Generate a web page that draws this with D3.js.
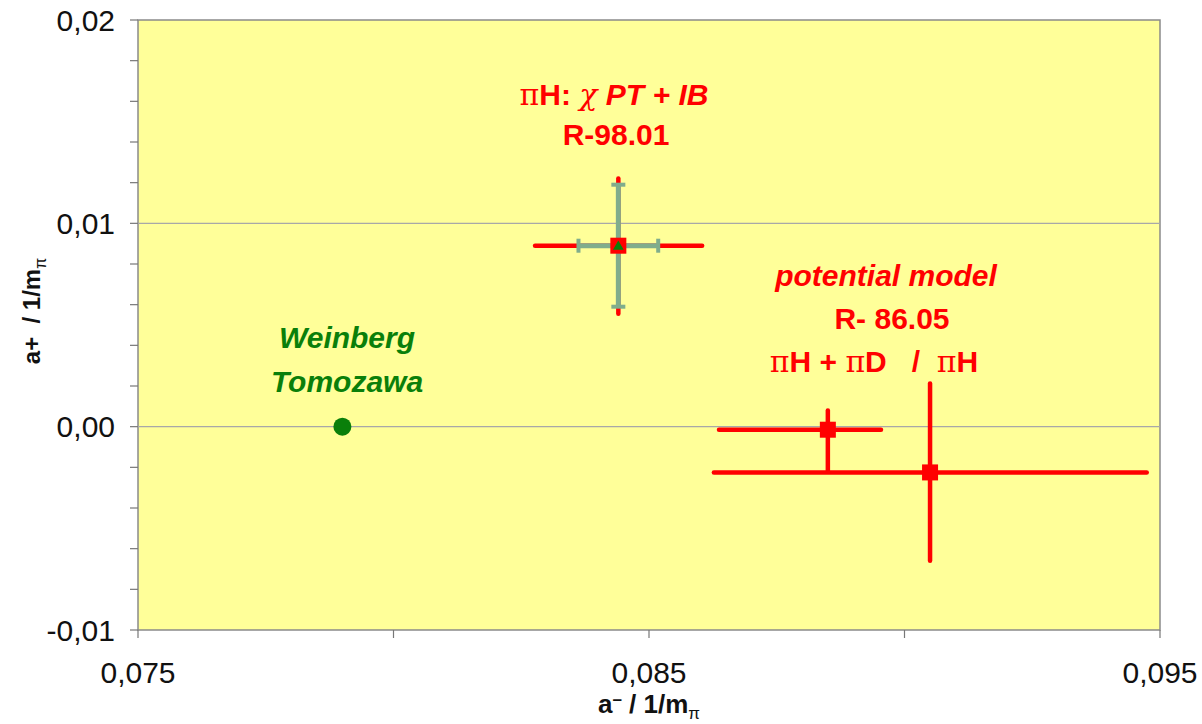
<!DOCTYPE html>
<html>
<head>
<meta charset="utf-8">
<script src="https://cdn.jsdelivr.net/npm/d3@7"></script>
<style>
body{margin:0;background:#fff;}
svg{display:block;font-family:Arial,"Liberation Sans",sans-serif;}
</style>
</head>
<body>
<svg id="chart" width="1202" height="724"></svg>
<script>
// 数据 (a-, a+ 单位 1/m_pi)
var xDomain=[0.075,0.095];
var yDomain=[-0.01,0.02];
var xTicks=[0.075,0.080,0.085,0.090,0.095];
var xTickLabels=["0,075","","0,085","","0,095"];
var yTicks=[-0.01,0,0.01,0.02];
var yTickLabels=["-0,01","0,00","0,01","0,02"];
var yMinorTicks=d3.range(-0.01,0.0201,0.002);

// red error bars: x, y, xlo, xhi, ylo, yhi
var redNames=["piH_chiPT","piH_piD","piH"];
var redX=[0.0844,0.0885,0.0905];
var redY=[0.0089,-0.00015,-0.00225];
var redXlo=[0.08277,0.08637,0.08627];
var redXhi=[0.08604,0.08954,0.09474];
var redYlo=[0.00555,-0.00216,-0.00659];
var redYhi=[0.0122,0.00079,0.00212];

// green (grey-green) error bars of chiPT point
var grnX=[0.0844];
var grnY=[0.0089];
var grnXerr=[0.00078];
var grnYerr=[0.0030];

// Weinberg-Tomozawa
var wtX=[0.0790];
var wtY=[0.0];

var svg=d3.select("#chart");
var L=138,R=1160,T=20,B=630;
var x=d3.scaleLinear().domain(xDomain).range([L,R]);
var y=d3.scaleLinear().domain(yDomain).range([B,T]);

var RED="#ff0000",GREEN="#0a7f0a",GG="#80ad8c";

// 底色
svg.append("rect").attr("x",L).attr("y",T).attr("width",R-L).attr("height",B-T)
    .attr("fill","#ffff99").attr("stroke","#8a8a8a").attr("stroke-width",1.5);

// grid
svg.append("g").selectAll("line").data([0,0.01]).enter().append("line")
    .attr("x1",L).attr("x2",R).attr("y1",d=>y(d)).attr("y2",d=>y(d))
    .attr("stroke","#a8a8a8").attr("stroke-width",1.2);

// y axis minor + major ticks
svg.append("g").selectAll("line").data(yMinorTicks).enter().append("line")
    .attr("x1",L-8).attr("x2",L).attr("y1",d=>y(d)).attr("y2",d=>y(d))
    .attr("stroke","#777").attr("stroke-width",1.2);
svg.append("g").selectAll("text").data(yTicks).enter().append("text")
    .attr("x",115).attr("y",d=>y(d)).attr("dy","0.36em")
    .attr("text-anchor","end").attr("font-size",30).attr("fill","#111")
    .text((d,i)=>yTickLabels[i]);

// x axis ticks
svg.append("g").selectAll("line").data(xTicks).enter().append("line")
    .attr("x1",d=>x(d)).attr("x2",d=>x(d)).attr("y1",B).attr("y2",B+8)
    .attr("stroke","#777").attr("stroke-width",1.2);
svg.append("g").selectAll("text").data(xTicks).enter().append("text")
    .attr("x",d=>x(d)).attr("y",683)
    .attr("text-anchor","middle").attr("font-size",30).attr("fill","#111")
    .text((d,i)=>xTickLabels[i]);

// axis titles
var xt=svg.append("text").attr("x",649).attr("y",713).attr("text-anchor","middle")
    .attr("font-size",26).attr("font-weight","bold").attr("fill","#111");
xt.append("tspan").text("a");
xt.append("tspan").attr("dy",-8).attr("font-size",17).text("\u2013");
xt.append("tspan").attr("dy",8).text(" / 1/m");
xt.append("tspan").attr("dy",6).attr("font-size",17).attr("font-weight","normal").text("\u03c0");

var yt=svg.append("text").attr("transform","translate(40,311) rotate(-90)")
    .attr("text-anchor","middle").attr("font-size",24).attr("font-weight","bold").attr("fill","#111")
    .attr("xml:space","preserve");
yt.append("tspan").text("a+  / 1/m");
yt.append("tspan").attr("dy",6).attr("font-size",16).attr("font-weight","normal").text("\u03c0");

// red error bars
var idx=d3.range(redX.length);
var eb=svg.append("g").attr("stroke",RED).attr("stroke-width",4.5).attr("stroke-linecap","round");
eb.selectAll(".h").data(idx).enter().append("line")
    .attr("x1",i=>x(redXlo[i])).attr("x2",i=>x(redXhi[i]))
    .attr("y1",i=>y(redY[i])).attr("y2",i=>y(redY[i]));
eb.selectAll(".v").data(idx).enter().append("line")
    .attr("x1",i=>x(redX[i])).attr("x2",i=>x(redX[i]))
    .attr("y1",i=>y(redYlo[i])).attr("y2",i=>y(redYhi[i]));

// grey-green bars with caps
var gb=svg.append("g").attr("stroke",GG).attr("stroke-width",5);
grnX.forEach(function(gx,i){
    var cx=x(gx),cy=y(grnY[i]);
    var x0=x(gx-grnXerr[i]),x1=x(gx+grnXerr[i]);
    var y0=y(grnY[i]-grnYerr[i]),y1=y(grnY[i]+grnYerr[i]);
    gb.append("line").attr("x1",x0).attr("x2",x1).attr("y1",cy).attr("y2",cy);
    gb.append("line").attr("x1",cx).attr("x2",cx).attr("y1",y0).attr("y2",y1);
    [x0,x1].forEach(function(v){
        gb.append("line").attr("x1",v).attr("x2",v).attr("y1",cy-7).attr("y2",cy+7).attr("stroke-width",4);
    });
    [y0,y1].forEach(function(v){
        gb.append("line").attr("y1",v).attr("y2",v).attr("x1",cx-7).attr("x2",cx+7).attr("stroke-width",4);
    });
});

// markers
svg.append("g").selectAll("rect").data(idx).enter().append("rect")
    .attr("x",i=>x(redX[i])-8).attr("y",i=>y(redY[i])-8)
    .attr("width",16).attr("height",16).attr("fill",RED);
svg.append("path")
    .attr("d",d3.symbol().type(d3.symbolTriangle).size(50))
    .attr("transform","translate("+x(grnX[0])+","+(y(grnY[0])+1)+")")
    .attr("fill",GREEN);
svg.append("g").selectAll("circle").data(wtX).enter().append("circle")
    .attr("cx",d=>x(d)).attr("cy",(d,i)=>y(wtY[i])).attr("r",9).attr("fill",GREEN);

// annotations
function label(xp,yp,color,parts){
    var t=svg.append("text").attr("x",xp).attr("y",yp).attr("text-anchor","middle")
        .attr("font-size",30).attr("font-weight","bold").attr("fill",color).attr("xml:space","preserve");
    parts.forEach(function(p){
        var s=t.append("tspan").text(p[0]);
        if(p[1]) s.attr("font-style","italic");
        if(p[2]) s.attr("font-family","'DejaVu Serif',serif").attr("font-weight","normal");
    });
    return t;
}
label(614,105,RED,[["\u03c0",0,1],["H: ",0],["\u03c7",1,1],[" PT + IB",1]]);
label(616,145,RED,[["R-98.01",0]]);
label(886,286,RED,[["potential model",1]]);
label(892,329,RED,[["R- 86.05",0]]);
label(874,372,RED,[["\u03c0",0,1],["H + ",0],["\u03c0",0,1],["D   /  ",0],["\u03c0",0,1],["H",0]]);
label(347,348,GREEN,[["Weinberg",1]]);
label(347,392,GREEN,[["Tomozawa",1]]);
</script>
</body>
</html>
